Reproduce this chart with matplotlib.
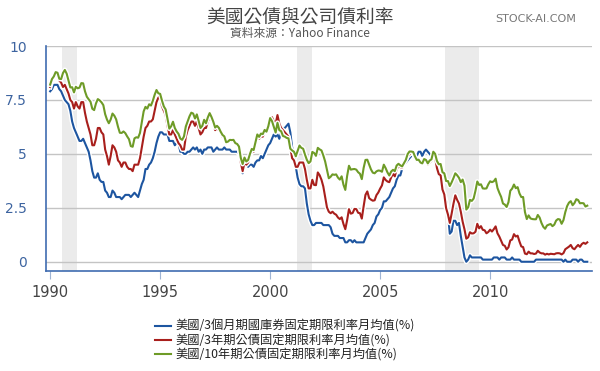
import numpy as np
import matplotlib
matplotlib.use('Agg')
import matplotlib.pyplot as plt
import matplotlib.patheffects as pe

plt.rcParams['font.family'] = ['Noto Sans CJK TC', 'DejaVu Sans']

# monthly averages, Jan 1990 .. Jun 2014
start_year = 1990
bill_3m = [
    7.9, 8.0, 8.2, 8.2, 8.2, 8.0, 7.9, 7.7, 7.5, 7.4, 7.3, 7.0,
    6.5, 6.2, 6.0, 5.8, 5.6, 5.6, 5.7, 5.5, 5.3, 5.1, 4.7, 4.2,
    3.9, 3.9, 4.1, 3.8, 3.7, 3.7, 3.3, 3.2, 3.0, 3.0, 3.3, 3.2,
    3.0, 3.0, 3.0, 2.9, 3.0, 3.1, 3.1, 3.1, 3.0, 3.1, 3.2, 3.1,
    3.0, 3.3, 3.6, 3.8, 4.3, 4.3, 4.5, 4.6, 4.8, 5.1, 5.5, 5.8,
    6.0, 6.0, 5.9, 5.9, 5.9, 5.6, 5.6, 5.6, 5.4, 5.5, 5.5, 5.1,
    5.1, 5.0, 5.0, 5.1, 5.1, 5.2, 5.3, 5.2, 5.3, 5.1, 5.2, 5.0,
    5.2, 5.2, 5.3, 5.3, 5.3, 5.1, 5.2, 5.3, 5.2, 5.2, 5.2, 5.3,
    5.2, 5.2, 5.2, 5.1, 5.1, 5.1, 5.1, 5.0, 4.7, 4.1, 4.5, 4.5,
    4.4, 4.5, 4.5, 4.4, 4.6, 4.7, 4.7, 4.9, 4.8, 5.0, 5.2, 5.4,
    5.5, 5.7, 5.9, 5.8, 5.9, 5.7, 6.0, 6.2, 6.2, 6.3, 6.4, 6.0,
    5.3, 4.9, 4.4, 3.9, 3.6, 3.5, 3.5, 3.4, 2.7, 2.2, 1.9, 1.7,
    1.7, 1.8, 1.8, 1.8, 1.8, 1.7, 1.7, 1.7, 1.7, 1.6, 1.3, 1.2,
    1.2, 1.2, 1.1, 1.1, 1.1, 0.9, 0.9, 1.0, 1.0, 0.9, 1.0, 0.9,
    0.9, 0.9, 0.9, 0.9, 1.1, 1.3, 1.4, 1.5, 1.7, 1.8, 2.1, 2.2,
    2.4, 2.5, 2.8, 2.8, 2.9, 3.0, 3.2, 3.4, 3.5, 3.8, 4.0, 4.0,
    4.3, 4.5, 4.6, 4.7, 4.8, 4.9, 5.0, 5.0, 4.9, 5.1, 5.1, 4.9,
    5.1, 5.2, 5.1, 5.0, 4.9, 4.7, 5.0, 4.3, 4.0, 4.0, 3.4, 3.1,
    2.8, 2.2, 1.3, 1.4, 1.9, 1.9, 1.7, 1.8, 1.2, 0.7, 0.2, 0.0,
    0.1, 0.3, 0.2, 0.2, 0.2, 0.2, 0.2, 0.2, 0.1, 0.1, 0.1, 0.1,
    0.1, 0.1, 0.2, 0.2, 0.2, 0.1, 0.2, 0.2, 0.2, 0.1, 0.1, 0.1,
    0.2, 0.1, 0.1, 0.1, 0.1, 0.0, 0.0, 0.0, 0.0, 0.0, 0.0, 0.0,
    0.0, 0.1, 0.1, 0.1, 0.1, 0.1, 0.1, 0.1, 0.1, 0.1, 0.1, 0.1,
    0.1, 0.1, 0.1, 0.1, 0.0, 0.1, 0.0, 0.0, 0.0, 0.1, 0.1, 0.1,
    0.0, 0.1, 0.1, 0.0, 0.0, 0.0,
]
note_3y = [
    8.1, 8.4, 8.6, 8.8, 8.7, 8.4, 8.3, 8.1, 8.2, 8.0, 7.8, 7.5,
    7.4, 7.1, 7.4, 7.2, 7.1, 7.4, 7.4, 6.9, 6.5, 6.2, 5.9, 5.4,
    5.4, 5.7, 6.2, 6.2, 6.0, 5.9, 5.2, 4.9, 4.5, 4.9, 5.4, 5.3,
    5.1, 4.7, 4.6, 4.4, 4.6, 4.6, 4.4, 4.3, 4.3, 4.2, 4.5, 4.5,
    4.5, 4.8, 5.3, 5.8, 6.2, 6.3, 6.5, 6.5, 6.6, 7.0, 7.4, 7.6,
    7.7, 7.2, 7.0, 6.8, 6.3, 5.9, 5.9, 6.1, 5.9, 5.7, 5.5, 5.4,
    5.2, 5.2, 5.8, 6.1, 6.3, 6.5, 6.5, 6.3, 6.5, 6.2, 5.9, 6.0,
    6.2, 6.2, 6.5, 6.7, 6.6, 6.4, 6.1, 6.2, 6.1, 6.0, 5.8, 5.8,
    5.5, 5.6, 5.6, 5.6, 5.6, 5.5, 5.5, 5.3, 4.6, 4.2, 4.6, 4.5,
    4.6, 4.9, 5.1, 5.1, 5.4, 5.8, 5.7, 5.8, 5.8, 6.0, 6.1, 6.3,
    6.6, 6.7, 6.5, 6.4, 6.8, 6.4, 6.2, 6.1, 6.0, 5.9, 5.8, 5.3,
    4.8, 4.7, 4.4, 4.4, 4.6, 4.6, 4.6, 4.3, 3.8, 3.4, 3.4, 3.8,
    3.56, 3.55, 4.14, 4.01, 3.80, 3.49, 3.01, 2.52, 2.32, 2.25, 2.32, 2.23,
    2.18, 2.05, 1.98, 2.06, 1.75, 1.51, 1.93, 2.44, 2.23, 2.26, 2.45, 2.44,
    2.27, 2.25, 2.00, 2.57, 3.10, 3.26, 2.95, 2.88, 2.83, 2.85, 3.09, 3.21,
    3.39, 3.54, 3.91, 3.79, 3.72, 3.69, 3.91, 4.08, 3.96, 4.29, 4.43, 4.39,
    4.35, 4.64, 4.74, 4.89, 4.97, 5.09, 5.07, 4.85, 4.69, 4.72, 4.64, 4.58,
    4.79, 4.75, 4.51, 4.60, 4.69, 5.00, 4.82, 4.34, 4.06, 4.01, 3.35, 3.12,
    2.48, 2.19, 1.80, 2.23, 2.69, 3.08, 2.87, 2.70, 2.32, 1.86, 1.51, 1.07,
    1.13, 1.37, 1.31, 1.32, 1.39, 1.76, 1.55, 1.65, 1.48, 1.46, 1.32, 1.38,
    1.49, 1.40, 1.51, 1.64, 1.32, 1.17, 0.98, 0.78, 0.74, 0.57, 0.67, 0.99,
    1.03, 1.28, 1.17, 1.21, 0.94, 0.71, 0.68, 0.38, 0.35, 0.47, 0.39, 0.39,
    0.36, 0.38, 0.51, 0.43, 0.39, 0.39, 0.33, 0.37, 0.34, 0.37, 0.36, 0.35,
    0.39, 0.40, 0.39, 0.34, 0.40, 0.58, 0.64, 0.70, 0.78, 0.63, 0.58, 0.69,
    0.78, 0.69, 0.82, 0.88, 0.83, 0.90,
]
note_10y = [
    8.21, 8.47, 8.59, 8.79, 8.76, 8.48, 8.47, 8.75, 8.89, 8.72, 8.39, 8.08,
    8.09, 7.85, 8.11, 8.04, 8.07, 8.28, 8.27, 7.90, 7.65, 7.53, 7.42, 7.09,
    7.03, 7.34, 7.54, 7.48, 7.39, 7.26, 6.84, 6.59, 6.42, 6.59, 6.87, 6.77,
    6.60, 6.26, 5.98, 5.97, 6.04, 5.96, 5.81, 5.68, 5.36, 5.33, 5.72, 5.77,
    5.75, 5.97, 6.48, 6.97, 7.18, 7.10, 7.30, 7.24, 7.46, 7.74, 7.96, 7.81,
    7.78, 7.47, 7.20, 7.06, 6.63, 6.17, 6.28, 6.49, 6.20, 6.04, 5.93, 5.71,
    5.65, 5.81, 6.27, 6.51, 6.74, 6.91, 6.87, 6.64, 6.83, 6.53, 6.20, 6.30,
    6.58, 6.42, 6.69, 6.89, 6.71, 6.49, 6.22, 6.30, 6.21, 6.03, 5.88, 5.81,
    5.54, 5.57, 5.65, 5.64, 5.65, 5.50, 5.46, 5.34, 4.81, 4.53, 4.83, 4.65,
    4.72, 5.00, 5.23, 5.18, 5.54, 5.90, 5.79, 5.94, 5.92, 6.11, 6.03, 6.28,
    6.66, 6.52, 6.26, 5.99, 6.44, 6.10, 6.05, 5.83, 5.80, 5.74, 5.72, 5.24,
    5.16, 5.10, 4.89, 5.14, 5.39, 5.28, 5.24, 4.97, 4.73, 4.57, 4.65, 5.09,
    5.04, 4.91, 5.28, 5.21, 5.16, 4.93, 4.65, 4.26, 3.87, 3.94, 4.05, 4.03,
    4.05, 3.90, 3.81, 3.96, 3.57, 3.33, 3.98, 4.45, 4.27, 4.29, 4.30, 4.27,
    4.15, 4.08, 3.83, 4.35, 4.72, 4.73, 4.50, 4.28, 4.13, 4.10, 4.19, 4.23,
    4.22, 4.17, 4.50, 4.34, 4.14, 4.00, 4.18, 4.26, 4.20, 4.46, 4.54, 4.47,
    4.42, 4.57, 4.72, 4.99, 5.11, 5.11, 5.09, 4.88, 4.72, 4.73, 4.60, 4.56,
    4.76, 4.72, 4.56, 4.69, 4.75, 5.10, 5.00, 4.67, 4.52, 4.53, 4.15, 4.10,
    3.74, 3.74, 3.51, 3.68, 3.88, 4.10, 4.01, 3.89, 3.69, 3.81, 3.53, 2.42,
    2.52, 2.87, 2.82, 2.93, 3.29, 3.72, 3.56, 3.59, 3.40, 3.39, 3.40, 3.59,
    3.73, 3.69, 3.73, 3.85, 3.42, 3.20, 3.01, 2.70, 2.65, 2.54, 2.76, 3.29,
    3.39, 3.58, 3.41, 3.46, 3.17, 3.00, 3.00, 2.30, 1.98, 2.15, 2.01, 1.98,
    1.97, 1.97, 2.17, 2.05, 1.80, 1.62, 1.53, 1.68, 1.72, 1.75, 1.65, 1.72,
    1.91, 1.98, 1.96, 1.76, 1.93, 2.30, 2.58, 2.74, 2.81, 2.62, 2.72, 2.90,
    2.86, 2.71, 2.72, 2.71, 2.56, 2.60,
]
labels = [
    '美國/3個月期國庫券固定期限利率月均值(%)',
    '美國/3年期公債固定期限利率月均值(%)',
    '美國/10年期公債固定期限利率月均值(%)',
]
colors = ['#1d55a0', '#a81f1c', '#6e9b27']
recessions = [(1990.55, 1991.2), (2001.2, 2001.88), (2007.95, 2009.5)]
year_ticks = [1990, 1995, 2000, 2005, 2010]
value_ticks = [0, 2.5, 5, 7.5, 10]
value_labels = ['0', '2.5', '5', '7.5', '10']

fig = plt.figure(figsize=(6, 3.71), dpi=100)
ax = fig.add_axes([0.077, 0.27, 0.91, 0.606])

for a, b in recessions:
    ax.axvspan(a, b, color='#ebebeb', lw=0, zorder=0)

for v in value_ticks:
    ax.axhline(v, color='#c4c4c4', lw=1, zorder=1)

for series, c in zip([bill_3m, note_3y, note_10y], colors):
    t = start_year + np.arange(len(series)) / 12.0
    ax.plot(t, series, color=c, lw=1.5, zorder=3,
            path_effects=[pe.Stroke(linewidth=3.5, foreground='white'), pe.Normal()])

ax.set_xlim(1989.82, 2014.64)
ax.set_ylim(-0.42, 10)
ax.set_xticks(year_ticks)
ax.set_xticklabels([str(y) for y in year_ticks], color='#444444', fontsize=10.5,
                   family='DejaVu Sans')
ax.set_yticks(value_ticks)
ax.set_yticklabels(value_labels, color='#3d64a0', fontsize=10, family='DejaVu Sans')
ax.tick_params(axis='x', length=6, color='#9fb4d4', pad=4)
ax.tick_params(axis='y', length=0, pad=14)
for s in ['top', 'right']:
    ax.spines[s].set_visible(False)
for s in ['left', 'bottom']:
    ax.spines[s].set_color('#3f6cb0')
    ax.spines[s].set_linewidth(1.2)

fig.text(0.5, 0.955, '美國公債與公司債利率', ha='center', va='center',
         fontsize=13.5, color='#444444')
fig.text(0.5, 0.91, '資料來源：Yahoo Finance', ha='center', va='center',
         fontsize=8.5, color='#555555')
fig.text(0.893, 0.95, 'STOCK-AI.COM', ha='center', va='center',
         fontsize=8, color='#777777', family='DejaVu Sans')

for i, (lab, c) in enumerate(zip(labels, colors)):
    y = 1 - (326 + i * 14) / 371
    fig.add_artist(plt.Line2D([0.258, 0.285], [y, y], color=c, lw=1.5))
    fig.text(0.292, y, lab, ha='left', va='center', fontsize=8.8, color='#222222')

fig.savefig('out.png', dpi=100)
